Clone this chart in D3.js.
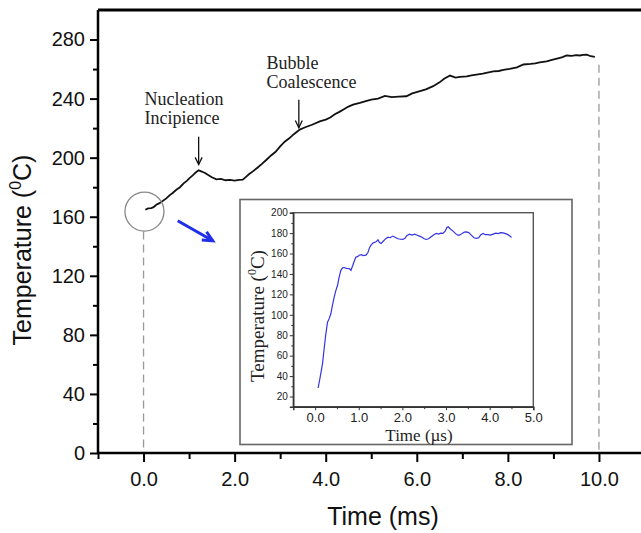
<!DOCTYPE html>
<html>
<head>
<meta charset="utf-8">
<script src="https://cdn.jsdelivr.net/npm/d3@7"></script>
<style>
  body { margin: 0; background: #fff; }
  svg { display: block; }
  .sans { font-family: "Liberation Sans", Arial, sans-serif; }
  .serif { font-family: "Liberation Serif", "Times New Roman", serif; }
</style>
</head>
<body>
<div id="chart"></div>
<script>
// main trace: time (ms) and temperature (C)
const mainTime = [0.04,0.1,0.17,0.22,0.28,0.35,0.42,0.5,0.57,0.64,0.72,0.8,0.88,0.95,1.01,1.08,1.15,1.21,1.28,1.35,
  1.42,1.5,1.6,1.7,1.8,1.9,2.0,2.1,2.18,2.25,2.32,2.4,2.5,2.6,2.7,2.8,2.9,3.0,3.1,3.2,
  3.3,3.43,3.55,3.7,3.87,4.0,4.1,4.2,4.3,4.4,4.5,4.6,4.75,4.9,5.0,5.15,5.3,5.45,5.6,5.77,
  5.9,6.07,6.2,6.36,6.5,6.6,6.73,6.85,6.95,7.1,7.2,7.31,7.45,7.55,7.68,7.8,7.9,8.04,8.2,8.34,
  8.5,8.6,8.7,8.85,8.99,9.1,9.2,9.29,9.4,9.5,9.58,9.65,9.73,9.82,9.91];
const mainTemp = [164.7,165.6,165.9,166.5,168.1,169.2,170.6,172.4,174.5,176.1,178.3,180.0,182.6,184.3,186.2,188.0,190.1,191.4,190.6,189.6,
  188.2,186.7,185.3,185.6,184.7,184.9,184.4,185.0,185.1,187.0,188.9,190.7,193.2,195.8,198.6,201.5,204.0,207.6,210.8,213.1,
  215.9,219.0,220.6,222.3,224.6,225.8,227.2,229.4,231.0,232.8,234.6,235.9,237.1,238.5,239.3,240.0,241.8,241.0,241.3,241.6,
  243.5,245.0,246.2,248.4,251.0,253.4,255.6,254.2,254.7,255.0,255.8,256.3,256.9,257.6,258.5,258.7,259.4,260.1,261.2,263.1,
  263.5,263.9,264.6,265.2,266.4,267.3,268.1,269.2,269.0,269.4,269.2,269.6,269.8,268.7,268.2];

// inset trace: time (us) and temperature (C)
const insetTime = [0.069,0.12,0.169,0.21,0.246,0.284,0.32,0.36,0.4,0.437,0.47,0.514,0.55,0.59,0.63,0.667,0.72,0.782,0.821,0.86,
  0.9,0.936,0.97,1.012,1.06,1.1,1.166,1.21,1.25,1.281,1.33,1.396,1.44,1.47,1.51,1.56,1.626,1.67,1.72,1.779,
  1.83,1.9,1.96,2.01,2.06,2.1,2.16,2.22,2.28,2.33,2.39,2.45,2.5,2.545,2.6,2.66,2.72,2.775,2.83,2.88,
  2.93,2.98,3.02,3.05,3.1,3.16,3.22,3.27,3.31,3.36,3.42,3.467,3.52,3.58,3.64,3.697,3.75,3.8,3.85,3.9,
  3.96,4.02,4.08,4.14,4.2,4.25,4.31,4.36,4.42,4.47,4.5];
const insetTemp = [28.3,40,51.9,68,81.4,92.8,96,101,110,117.4,123,128.9,137,143.6,146,146.3,145.5,145.3,143.6,148,
  153,156.7,157,158.4,159,158,158.4,161,166,168.2,170.5,171.5,173.5,171,169.9,172,174.8,176,175.5,177.1,
  176,174.5,174,173.8,175,177.5,179,178,179,178.2,177.1,176,174.5,173.8,174.5,176.5,178.5,179.7,179,180,
  179.7,182,185.5,186.2,184,182,179.5,178,178,179.5,181,181.2,180.5,178,175.5,174.8,175.5,178.5,179.7,178.5,
  178.5,178,179,180,179.5,180.5,180.3,179.5,178.5,177,175.7];

const mainXTicks = [0, 2, 4, 6, 8, 10];
const mainYTicks = [0, 40, 80, 120, 160, 200, 240, 280];
const insetXTicks = [0, 1, 2, 3, 4, 5];
const insetYTicks = [20, 40, 60, 80, 100, 120, 140, 160, 180, 200];

const W = 641, H = 533;
const svg = d3.select("#chart").append("svg").attr("width", W).attr("height", H);

// ---------- main chart ----------
const x = d3.scaleLinear().domain([-1, 11]).range([98, 644.5]);
const y = d3.scaleLinear().domain([0, 300]).range([453, 10]);

// top frame line
svg.append("line")
  .attr("x1", x(-1)).attr("x2", W).attr("y1", y(300)).attr("y2", y(300))
  .attr("stroke", "#000").attr("stroke-width", 3);

// dashed guide lines
svg.append("line")
  .attr("x1", x(0)).attr("x2", x(0)).attr("y1", y(150)).attr("y2", y(0))
  .attr("stroke", "#999").attr("stroke-width", 1.3).attr("stroke-dasharray", "8,5");
svg.append("line")
  .attr("x1", x(10)).attr("x2", x(10)).attr("y1", y(263)).attr("y2", y(0))
  .attr("stroke", "#999").attr("stroke-width", 1.3).attr("stroke-dasharray", "8,5");

// axes
const xAxis = svg.append("g").attr("transform", `translate(0,${y(0)})`)
  .call(d3.axisBottom(x).tickValues(mainXTicks).tickFormat(d3.format(".1f")).tickSize(9).tickPadding(10));
svg.append("g").attr("transform", `translate(0,${y(0)})`)
  .call(d3.axisBottom(x).tickValues([-1, 1, 3, 5, 7, 9]).tickFormat("").tickSize(6))
  .call(g => g.select(".domain").remove());
const yAxis = svg.append("g").attr("transform", `translate(${x(-1)},0)`)
  .call(d3.axisLeft(y).tickValues(mainYTicks).tickSize(8).tickPadding(5));
svg.append("g").attr("transform", `translate(${x(-1)},0)`)
  .call(d3.axisLeft(y).tickValues(d3.range(20, 300, 40)).tickFormat("").tickSize(5))
  .call(g => g.select(".domain").remove());

svg.selectAll(".domain").attr("stroke-width", 2.5);
svg.selectAll(".tick line").attr("stroke-width", 2);
xAxis.select(".domain").attr("d", `M${x(-1)},0H${W}`);
yAxis.select(".domain").attr("d", `M0,${y(0) + 1}V${y(300)}`);
xAxis.selectAll("text").attr("class", "sans").attr("font-size", 20).attr("fill", "#111");
yAxis.selectAll("text").attr("class", "sans").attr("font-size", 20).attr("fill", "#111");

// axis titles
svg.append("text").attr("class", "sans")
  .attr("x", 383).attr("y", 525).attr("text-anchor", "middle")
  .attr("font-size", 25).attr("fill", "#111").text("Time (ms)");
const yt = svg.append("text").attr("class", "sans")
  .attr("transform", "translate(31,250) rotate(-90)").attr("text-anchor", "middle")
  .attr("font-size", 25).attr("fill", "#111");
yt.append("tspan").text("Temperature (");
yt.append("tspan").attr("font-size", 16).attr("dy", -10).text("0");
yt.append("tspan").attr("dy", 10).text("C)");

// main curve
const mainData = mainTime.map((t, i) => ({ t, v: mainTemp[i] }));
svg.append("path").datum(mainData)
  .attr("fill", "none").attr("stroke", "#111").attr("stroke-width", 1.8)
  .attr("d", d3.line().x(d => x(d.t)).y(d => y(d.v)));

// circle around start
svg.append("circle")
  .attr("cx", x(0.02)).attr("cy", y(163.5)).attr("r", 19.5)
  .attr("fill", "none").attr("stroke", "#888").attr("stroke-width", 1.3);

// arrows
function arrow(g, x1, y1, x2, y2, color, width, head) {
  const a = Math.atan2(y2 - y1, x2 - x1);
  g.append("line").attr("x1", x1).attr("y1", y1).attr("x2", x2).attr("y2", y2)
    .attr("stroke", color).attr("stroke-width", width);
  const p = [
    [x2 - head * Math.cos(a - 0.45), y2 - head * Math.sin(a - 0.45)],
    [x2, y2],
    [x2 - head * Math.cos(a + 0.45), y2 - head * Math.sin(a + 0.45)]
  ];
  g.append("path").attr("d", d3.line()(p)).attr("fill", "none")
    .attr("stroke", color).attr("stroke-width", width).attr("stroke-linejoin", "miter");
}
arrow(svg, x(0.75), y(157.3), x(1.52), y(143.7), "#1f2ee8", 3, 11);
arrow(svg, x(1.21), y(214.2), x(1.21), y(195.3), "#111", 1.3, 8);
arrow(svg, x(3.41), y(239.3), x(3.41), y(220.3), "#111", 1.3, 8);

// annotations
const notes = [
  { t: 0.02, v: 235.6, text: "Nucleation" },
  { t: 0.02, v: 222.8, text: "Incipience" },
  { t: 2.70, v: 260.0, text: "Bubble" },
  { t: 2.70, v: 247.2, text: "Coalescence" }
];
svg.selectAll(".note").data(notes).join("text")
  .attr("class", "note serif")
  .attr("x", d => x(d.t)).attr("y", d => y(d.v))
  .attr("font-size", 18).attr("fill", "#222").text(d => d.text);

// ---------- inset ----------
svg.append("rect")
  .attr("x", 240).attr("y", 199.5).attr("width", 332).attr("height", 245)
  .attr("fill", "#fff").attr("stroke", "#666").attr("stroke-width", 1.6);

const ix = d3.scaleLinear().domain([-0.5, 5]).range([293.3, 533.3]);
const iy = d3.scaleLinear().domain([10, 200]).range([406.7, 212.7]);

const inset = svg.append("g");
inset.append("rect")
  .attr("x", ix(-0.5)).attr("y", iy(200)).attr("width", ix(5) - ix(-0.5)).attr("height", iy(10) - iy(200))
  .attr("fill", "none").attr("stroke", "#555").attr("stroke-width", 1.4);

const ixAxis = inset.append("g").attr("transform", `translate(0,${iy(10)})`)
  .call(d3.axisBottom(ix).tickValues(insetXTicks).tickFormat(d3.format(".1f")).tickSize(3.5).tickPadding(3));
inset.append("g").attr("transform", `translate(0,${iy(10)})`)
  .call(d3.axisBottom(ix).tickValues([0.5, 1.5, 2.5, 3.5, 4.5]).tickFormat("").tickSize(2.5))
  .call(g => g.select(".domain").remove());
const iyAxis = inset.append("g").attr("transform", `translate(${ix(-0.5)},0)`)
  .call(d3.axisLeft(iy).tickValues(insetYTicks).tickSize(3.5).tickPadding(2));
inset.append("g").attr("transform", `translate(${ix(-0.5)},0)`)
  .call(d3.axisLeft(iy).tickValues(d3.range(30, 200, 20)).tickFormat("").tickSize(2))
  .call(g => g.select(".domain").remove());
inset.selectAll(".domain").attr("stroke", "#333").attr("stroke-width", 1.4);
inset.selectAll(".tick line").attr("stroke", "#333");
ixAxis.selectAll("text").attr("class", "sans").attr("font-size", 13).attr("fill", "#222");
iyAxis.selectAll("text").attr("class", "sans").attr("font-size", 10).attr("fill", "#222");

inset.append("text").attr("class", "serif")
  .attr("x", 419).attr("y", 441).attr("text-anchor", "middle")
  .attr("font-size", 17).attr("fill", "#222").text("Time (µs)");
const iyt = inset.append("text").attr("class", "serif")
  .attr("transform", "translate(264,316) rotate(-90)").attr("text-anchor", "middle")
  .attr("font-size", 19).attr("fill", "#222");
iyt.append("tspan").text("Temperature (");
iyt.append("tspan").attr("font-size", 12).attr("dy", -8).text("0");
iyt.append("tspan").attr("dy", 8).text("C)");

const insetData = insetTime.map((t, i) => ({ t, v: insetTemp[i] }));
inset.append("path").datum(insetData)
  .attr("fill", "none").attr("stroke", "#3434e0").attr("stroke-width", 1.2)
  .attr("d", d3.line().x(d => ix(d.t)).y(d => iy(d.v)));
</script>
</body>
</html>
